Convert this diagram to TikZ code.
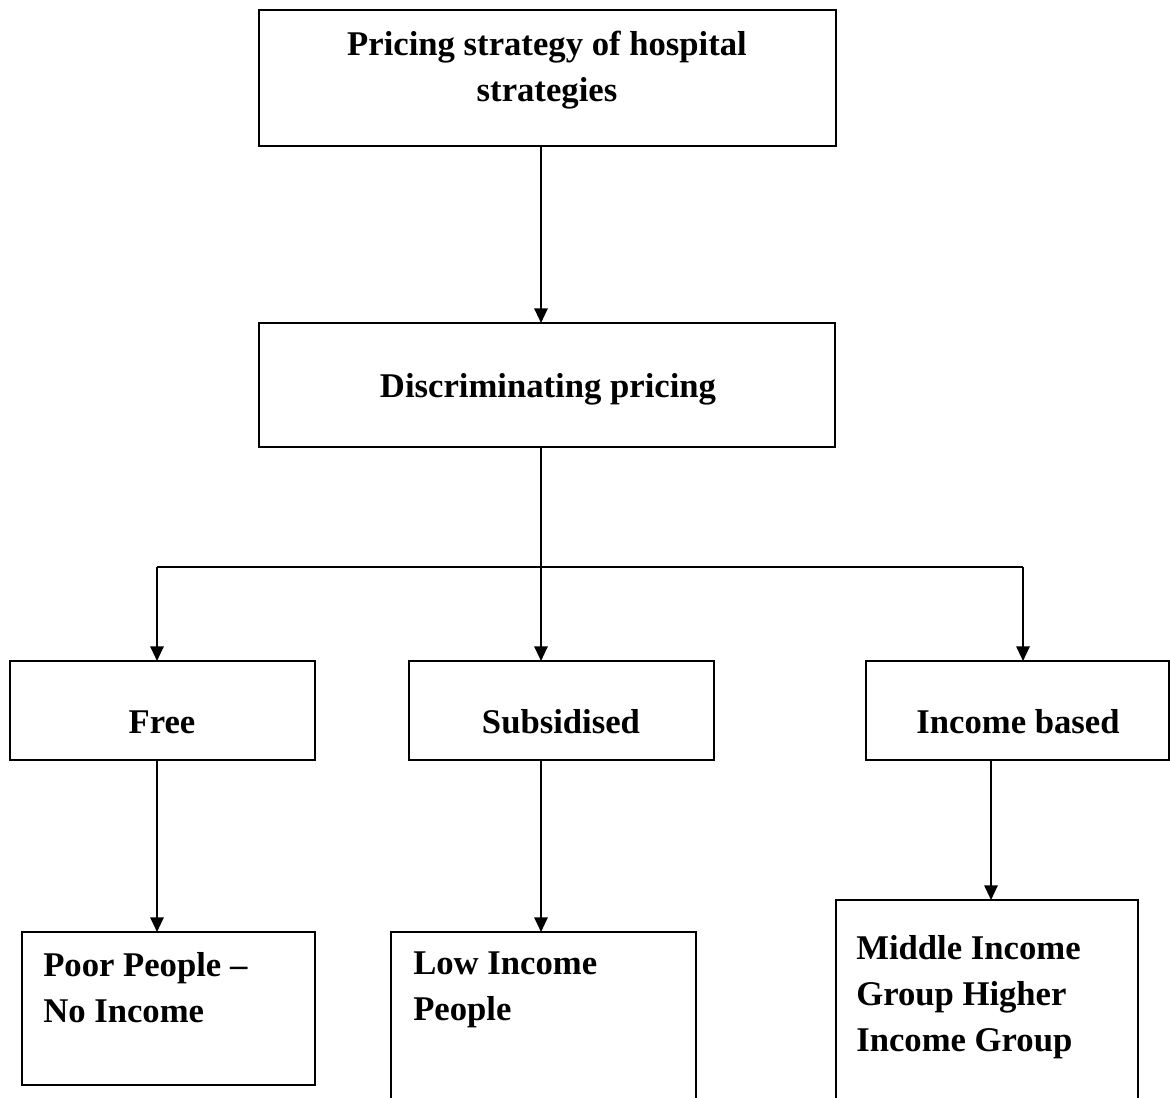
\documentclass[tikz,border=0pt]{standalone}
\usepackage{fontspec}
\setmainfont{Liberation Serif}
\usetikzlibrary{arrows.meta,fit}
\begin{document}
\begin{tikzpicture}[x=0.75pt,y=-0.75pt,
  box/.style={draw,line width=1.5pt,inner sep=0pt,outer sep=0pt},
  lbl/.style={inner sep=0pt,font=\fontsize{26}{34.5}\selectfont\bfseries},
  link/.style={line width=1.5pt},
  arr/.style={line width=1.5pt,-{Triangle[length=11pt,width=10pt]}}]
\useasboundingbox (0,0) rectangle (1170,1098);
\begin{scope}
\clip (0,0) rectangle (1170,1098);
% boxes
\node[box,fit={(259,10) (836,146)}]   (top)  {};
\node[box,fit={(259,323) (835,447)}]  (disc) {};
\node[box,fit={(10,661) (315,760)}]   (free) {};
\node[box,fit={(409,661) (714,760)}]  (sub)  {};
\node[box,fit={(866,661) (1169,760)}] (inc)  {};
\node[box,fit={(22,932) (315,1085)}]  (poor) {};
\node[box,fit={(391,932) (696,1130)}] (low)  {};
\node[box,fit={(836,900) (1138,1130)}] (mid) {};
\end{scope}
% labels
\node[lbl,align=center,anchor=north] (ttop) at (547,31)
  {Pricing strategy of hospital\\strategies};
\node[lbl,anchor=base] (tdisc) at (548,397) {Discriminating pricing};
\node[lbl,anchor=base] (tfree) at (162,733) {Free};
\node[lbl,anchor=base] (tsub)  at (561,733) {Subsidised};
\node[lbl,anchor=base] (tinc)  at (1018,733) {Income based};
\node[lbl,align=left,anchor=north west] (tpoor) at (43,952)
  {Poor People --\\No Income};
\node[lbl,align=left,anchor=north west] (tlow) at (413,952)
  {Low Income\\People};
\node[lbl,align=left,anchor=north west] (tmid) at (856,935)
  {Middle Income\\Group Higher\\Income Group};
% connector junctions
\coordinate (hub) at (541,567);
\coordinate (jl)  at (157,567);
\coordinate (jr)  at (1023,567);
\coordinate (ic)  at (991,760);
% connectors
\draw[arr] (top.south -| hub) -- (disc.north -| hub);
\draw[link] (disc.south -| hub) -- (hub);
\draw[link] (jl) -- (jr);
\draw[arr] (jl) -- (free.north -| jl);
\draw[arr] (hub) -- (sub.north -| hub);
\draw[arr] (jr) -- (inc.north -| jr);
\draw[arr] (free.south -| jl) -- (poor.north -| jl);
\draw[arr] (sub.south -| hub) -- (low.north -| hub);
\draw[arr] (inc.south -| ic) -- (mid.north -| ic);
\end{tikzpicture}
\end{document}
